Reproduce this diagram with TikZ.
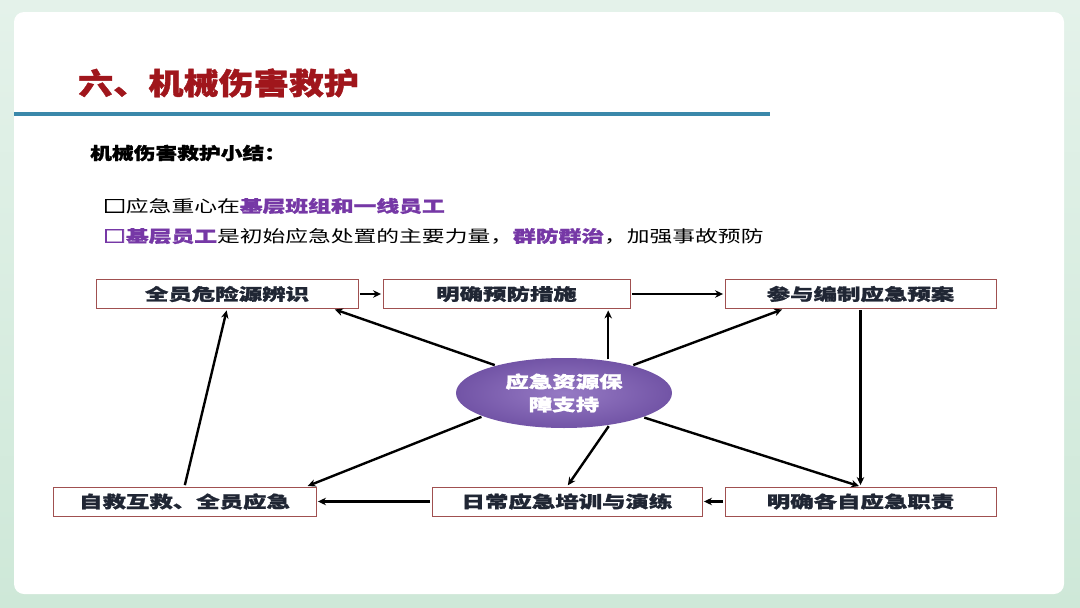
\documentclass[tikz,border=0pt]{standalone}
\usepackage{fontspec}
\usepackage{graphicx}
\setmainfont{Noto Sans CJK SC}[BoldFeatures={FakeBold=1.2}]
\newfontfamily\boxfont[FakeBold=3]{Noto Sans CJK SC}
\usetikzlibrary{shapes.geometric, arrows.meta}

\definecolor{bggreen}{RGB}{206,232,216}
\definecolor{bglight}{RGB}{228,242,234}
\definecolor{titlered}{RGB}{160,22,28}
\definecolor{ruleblue}{RGB}{58,136,170}
\definecolor{keypurple}{RGB}{118,56,166}
\definecolor{boxred}{RGB}{160,80,80}
\definecolor{boxtext}{RGB}{32,38,52}
\definecolor{ellin}{RGB}{150,122,196}
\definecolor{ellout}{RGB}{114,84,166}

% text stretched sideways as in the slide
\newcommand{\wide}[2][1.42]{\scalebox{#1}[1]{#2}}
\newcommand{\key}[1]{{\color{keypurple}\bfseries #1}}
\newcommand{\tick}{{\boxfont □}}

\begin{document}
\begin{tikzpicture}[x=1pt, y=-1pt, >=Stealth,
    stepbox/.style={draw=boxred, line width=0.9pt, fill=white, inner sep=0pt,
        minimum height=29pt, text=boxtext,
        font=\fontsize{16.5}{16.5}\selectfont\bfseries},
    hub/.style={ellipse, inner color=ellin, outer color=ellout, inner sep=0pt,
        minimum width=216pt, minimum height=70pt, text=white, align=center,
        font=\fontsize{16.5}{23}\selectfont\bfseries},
    arr/.style={line width=2.4pt, shorten <=1.5pt, shorten >=1.5pt,
        -{Stealth[length=8pt, width=7.5pt]}}]

    % Background and card
    \useasboundingbox (0,0) rectangle (1080,608);
    \shade[top color=bglight, bottom color=bggreen] (0,0) rectangle (1080,608);
    \fill[white, rounded corners=10pt] (14,12) rectangle (1064,594);

    % Title
    \node[anchor=west, inner sep=0pt, text=titlered,
        font=\fontsize{30}{30}\selectfont\bfseries] (title) at (78,83)
        {\wide[1.17]{六、机械伤害救护}};
    \fill[ruleblue] (14,112) rectangle (770,116);

    % Summary
    \node[anchor=west, inner sep=0pt, font=\fontsize{17}{17}\selectfont\bfseries]
        (summary) at (90,153) {\wide[1.28]{机械伤害救护小结：}};
    \node[anchor=west, inner sep=0pt, font=\fontsize{16.5}{16.5}\selectfont]
        (lineone) at (103,206) {\wide[1.38]{\tick 应急重心在\key{基层班组和一线员工}}};
    \node[anchor=west, inner sep=0pt, font=\fontsize{16.5}{16.5}\selectfont]
        (linetwo) at (103,236) {\wide[1.38]{\key{\tick 基层员工}是初始应急处置的主要力量，\key{群防群治}，加强事故预防}};

    % Boxes
    \node[stepbox, minimum width=262pt] (A) at (227,294) {\wide{全员危险源辨识}};
    \node[stepbox, minimum width=247pt] (B) at (506.5,294) {\wide{明确预防措施}};
    \node[stepbox, minimum width=271pt] (C) at (860.5,294) {\wide{参与编制应急预案}};
    \node[stepbox, minimum width=263pt] (D) at (184.5,501.5) {\wide{自救互救、全员应急}};
    \node[stepbox, minimum width=270pt] (E) at (567,501.5) {\wide{日常应急培训与演练}};
    \node[stepbox, minimum width=271pt] (F) at (860.5,501.5) {\wide{明确各自应急职责}};

    % Hub
    \node[hub] (R) at (564,393) {\wide{应急资源保}\\\wide{障支持}};

    % Cycle
    \draw[arr] (A.east) -- (B.west);
    \draw[arr] (B.east) -- (C.west);
    \draw[arr] (C.south) -- (F.north);
    \draw[arr] (F.west) -- (E.east);
    \draw[arr] (E.west) -- (D.east);
    \draw[arr] (D.north) -- (A.south);

    % From hub
    \draw[arr] (R.158) -- (A.-8);
    \draw[arr] (R.36) -- (R.36 |- B.south);
    \draw[arr] (R.22) -- (C.191);
    \draw[arr] (R.196) -- (D.7);
    \draw[arr] (R.-35) -- (E.north);
    \draw[arr] (R.-17.5) -- (F.north);
\end{tikzpicture}
\end{document}
